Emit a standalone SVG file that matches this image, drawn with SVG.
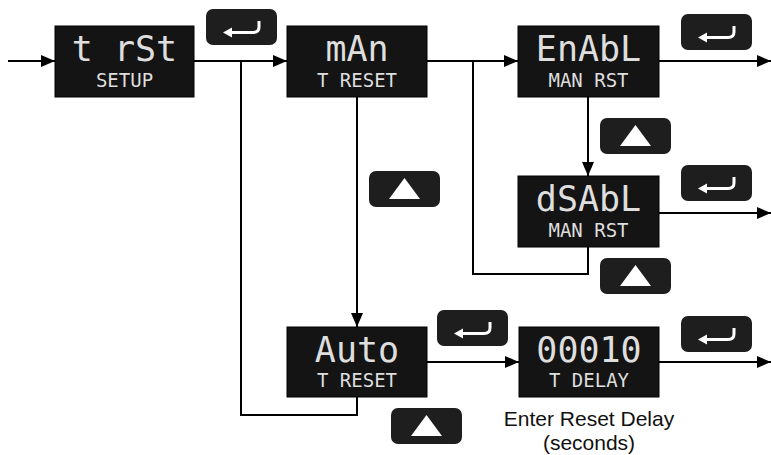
<svg xmlns="http://www.w3.org/2000/svg" width="771" height="455" viewBox="0 0 771 455">
<style>
.bg{fill:#ffffff}
.node{fill:#141414;stroke:#000;stroke-width:1}
.btn{fill:#1e1e1e}
.top{font-family:"DejaVu Sans Mono","Liberation Mono",monospace;font-size:35px;fill:#dedede;text-anchor:middle}
.sub{font-family:"DejaVu Sans Mono","Liberation Mono",monospace;font-size:19px;fill:#dedede;text-anchor:middle}
.cap{font-family:"Liberation Sans",Arial,sans-serif;font-size:21px;fill:#111;text-anchor:middle}
.ln{fill:none;stroke:#000;stroke-width:2}
.ic{fill:none;stroke:#fff;stroke-width:3;stroke-linecap:butt}
</style>
<defs>
<marker id="ah" markerWidth="14" markerHeight="12" refX="14" refY="6" orient="auto" markerUnits="userSpaceOnUse">
<path d="M0,0 L14,6 L0,12 Z" fill="#000"/>
</marker>
<g id="enter">
<rect class="btn" x="0" y="0" width="71" height="36" rx="7"/>
<path d="M17,23.5 L26,18.5 L26,28.5 Z" fill="#fff"/>
<path class="ic" d="M25,23.5 H47 Q53,23.5 53,18 V12"/>
</g>
<g id="up">
<rect class="btn" x="0" y="0" width="71" height="36" rx="7"/>
<path d="M35.5,7 L51,28 L20,28 Z" fill="#fff"/>
</g>
</defs>
<rect class="bg" x="0" y="0" width="771" height="455"/>

<g id="connectors">
<path class="ln" d="M8,61 H55" marker-end="url(#ah)"/>
<path class="ln" d="M194,61 H287" marker-end="url(#ah)"/>
<path class="ln" d="M241,61 V415 H357 V397"/>
<path class="ln" d="M427,61 H518" marker-end="url(#ah)"/>
<path class="ln" d="M473,61 V274 H588 V247"/>
<path class="ln" d="M357,97 V327" marker-end="url(#ah)"/>
<path class="ln" d="M588,97 V176" marker-end="url(#ah)"/>
<path class="ln" d="M659,61 H771" marker-end="url(#ah)"/>
<path class="ln" d="M659,213 H771" marker-end="url(#ah)"/>
<path class="ln" d="M427,362 H519" marker-end="url(#ah)"/>
<path class="ln" d="M659,362 H771" marker-end="url(#ah)"/>
</g>

<g id="node-trst">
<rect class="node" x="55" y="26" width="139" height="71"/>
<text class="top" x="124.5" y="61">t rSt</text>
<text class="sub" x="124.5" y="87">SETUP</text>
</g>
<g id="node-man">
<rect class="node" x="287" y="26" width="140" height="71"/>
<text class="top" x="357" y="61">mAn</text>
<text class="sub" x="357" y="87">T RESET</text>
</g>
<g id="node-enabl">
<rect class="node" x="518" y="26" width="141" height="71"/>
<text class="top" x="588.5" y="61">EnAbL</text>
<text class="sub" x="588.5" y="87">MAN RST</text>
</g>
<g id="node-dsabl">
<rect class="node" x="518" y="176" width="141" height="71"/>
<text class="top" x="588.5" y="211">dSAbL</text>
<text class="sub" x="588.5" y="237">MAN RST</text>
</g>
<g id="node-auto">
<rect class="node" x="287" y="327" width="140" height="70"/>
<text class="top" x="357" y="362">Auto</text>
<text class="sub" x="357" y="387">T RESET</text>
</g>
<g id="node-delay">
<rect class="node" x="519" y="327" width="140" height="70"/>
<text class="top" x="589" y="362">00010</text>
<text class="sub" x="589" y="387">T DELAY</text>
<text class="cap" x="589" y="426">Enter Reset Delay</text>
<text class="cap" x="589" y="450">(seconds)</text>
</g>

<g id="buttons">
<use href="#enter" x="206" y="9"/>
<use href="#enter" x="681" y="14"/>
<use href="#up" x="600" y="118"/>
<use href="#enter" x="681" y="165"/>
<use href="#up" x="600" y="258"/>
<use href="#up" x="369" y="171"/>
<use href="#enter" x="437" y="310"/>
<use href="#up" x="391" y="408"/>
<use href="#enter" x="681" y="316"/>
</g>
</svg>
